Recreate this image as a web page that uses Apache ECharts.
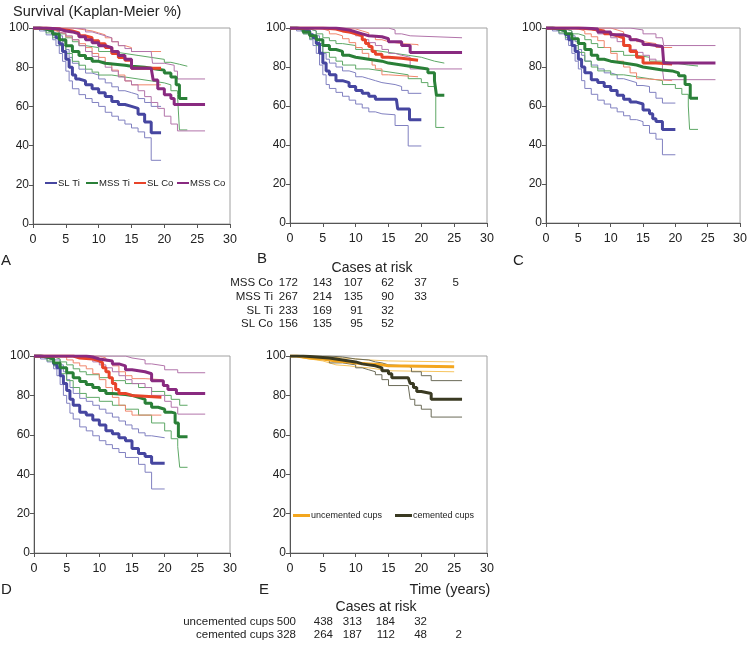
<!DOCTYPE html>
<html><head><meta charset="utf-8">
<script src="https://cdn.jsdelivr.net/npm/echarts/dist/echarts.min.js"></script>
<style>html,body{margin:0;padding:0;background:#fff}#c{width:750px;height:652px}</style>
</head><body><div id="c"></div>
<script>
// ---------------- DATA (time in years, Kaplan-Meier survival %) ----------------
// Panel A
const A_SLTi_est = [[0,100],[1,99.5],[2,98.5],[3,97],[3.5,95],[4,92],[4.5,88],[5,84],[5.5,80],[6,76],[6.5,74],[7,73],[8,71],[9,69],[10,67],[11,65],[12,62.5],[13,61],[14,60],[15,59],[16,56],[17,52],[18,46.5],[19.5,46.5]];
const A_SLTi_hi  = [[0,100],[2,99.5],[3,98.5],[4,96],[4.5,93],[5,89],[5.5,85],[6,82],[7,79],[8,77],[9,76],[10,74],[11,72],[12,70],[13,68],[14,67],[15,66],[16,64],[17,62],[18,60],[19.5,60]];
const A_SLTi_lo  = [[0,100],[1,98.5],[2,96.5],[3,94],[3.5,91],[4,87],[4.5,83],[5,78],[5.5,73],[6,69],[7,66],[8,64],[9,62],[10,60],[11,57],[12,55],[13,53],[14,51],[15,49],[16,47],[17,44],[18,32.5],[19.5,32.5]];
const A_MSSTi_est = [[0,100],[1,99.5],[2,98.5],[3,97],[4,94],[5,91],[6,88],[7,86],[8,84.5],[9,83],[10,82],[11,81],[14,80.5],[15,80],[17,79.5],[18,79],[19,78.5],[20,77],[21,75],[21.8,71],[22.3,64],[23.5,64]];
const A_MSSTi_hi  = [[0,100],[2,99.5],[3,98.5],[4,97],[5,95],[6,93],[7,91],[8,90],[10,88],[12,87],[14,86],[16,85],[18,84],[20,82.5],[21,81.5],[22.3,80.5],[23.5,80.5]];
const A_MSSTi_lo  = [[0,100],[1,99],[2,97.5],[3,95],[4,91],[5,87],[6,83],[7,81],[8,79],[9,77.5],[10,76],[12,75],[14,74],[16,73],[18,72],[20,71],[21,68],[22,66],[22.3,48],[23.5,48]];
const A_SLCo_est = [[0,100],[2,99.5],[4,99],[5,98.5],[6,97.5],[7,96],[8,95],[9,93.5],[10,92],[11,90],[12,87],[13,85],[14,83.5],[15,79.5],[19.5,79.5]];
const A_SLCo_hi  = [[0,100],[5,100],[6,99.5],[7,99],[8,98.5],[9,97.5],[10,96.5],[11,95],[12,93],[13,91],[14,90],[15,88],[19.5,88]];
const A_SLCo_lo  = [[0,100],[2,99],[3,98],[4,97],[5,95.5],[6,94],[7,92],[8,90],[9,87],[10,85],[11,82],[12,78.5],[13,76],[14,73],[15,71],[19.5,71]];
const A_MSSCo_est = [[0,100],[2,99.5],[4,98.5],[5,98],[6,97],[7,95.5],[8,94],[9,92.5],[10,91],[11,90],[12,88],[13,86],[14,84],[15,79.5],[18,78.5],[18.3,73.5],[19,69],[20,66],[21,64],[21.5,61],[26.2,61]];
const A_MSSCo_hi  = [[0,100],[4,100],[6,99.5],[8,98],[9,97],[10,96],[11,95],[12,93],[13,91],[14,89.5],[15,88],[18,87.5],[18.2,82],[20,81],[21.5,78],[22,74],[26.2,74]];
const A_MSSCo_lo  = [[0,100],[2,99],[4,97.5],[5,96],[6,94],[7,91],[8,88],[9,85.5],[10,83],[11,80],[12,78],[13,75],[14,73],[15,71],[16,68],[17,65],[18,62],[19,59],[20,55],[21,51],[22,47.5],[26.2,47.5]];
// Panel B
const B_SLTi_est = [[0,100],[1,99.5],[2,98.5],[3,96.5],[3.5,95],[4,92],[4.5,87],[5,82],[5.5,78],[6,76],[7,73],[8,72],[9,70],[10,68],[11,66.5],[12,65],[13,63.5],[16.2,63],[16.4,58.5],[18.2,53],[20,53]];
const B_SLTi_hi  = [[0,100],[2,99.5],[3,98.5],[4,96],[4.5,92],[5,87],[5.5,84],[6,82],[7,80],[8,78],[9,77],[10,75],[11,74],[12,73],[13,72],[14,71],[16,70],[17,68],[18,66.5],[20,66.5]];
const B_SLTi_lo  = [[0,100],[1,98.5],[2,97],[3,94],[3.5,91],[4,87],[4.5,81],[5,76],[5.5,71],[6,69],[7,67],[8,65],[9,63],[10,61],[11,59],[12,57],[13,56],[14,55.5],[16,50],[18,39.5],[20,39.5]];
const B_MSSTi_est = [[0,100],[1,99.5],[2,98],[3,96],[4,94],[5,91],[6,89],[7,88],[8,86],[9,85],[10,84],[12,83],[14,82],[15,81],[17,80.5],[18,79.5],[20,79],[21,77],[22,73],[22.3,65.5],[23.5,65.5]];
const B_MSSTi_hi  = [[0,100],[2,99.5],[3,98.5],[4,97],[5,95],[6,93.5],[7,92],[8,91],[10,89],[12,88],[14,87],[16,86],[18,85],[20,84],[21,83],[22,82],[23.5,82]];
const B_MSSTi_lo  = [[0,100],[1,99],[2,97],[3,94.5],[4,91],[5,87.5],[6,85],[7,83],[8,81],[10,79],[12,78],[14,77],[16,76],[18,74],[20,72],[21,70],[22.2,49],[23.5,49]];
const B_SLCo_est = [[0,100],[4,100],[5,99.5],[7,98.5],[8,98],[9,97],[10,96],[11,94],[11.5,92],[12,90.5],[12.5,88],[13,86.5],[14,85],[15,84.5],[17,83.5],[19.5,83.5]];
const B_SLCo_hi  = [[0,100],[7,100],[8,99.5],[10,98.5],[11,97.5],[12,96],[13,94],[14,93],[15,92],[17,91.5],[19.5,91]];
const B_SLCo_lo  = [[0,100],[4,99.5],[5,98.5],[6,97],[7,96],[8,94.5],[9,92.5],[10,90],[11,87],[12,84],[12.5,81],[13,79],[14,76],[15,75],[19.5,75]];
const B_MSSCo_est = [[0,100],[6,100],[7,99],[9,98],[10,97],[11,96],[12,95.5],[14,94.5],[15,93],[17,91],[18.3,87.5],[26.2,87.5]];
const B_MSSCo_hi  = [[0,100],[14,100],[15,99],[16,97],[17,96],[18.3,95],[26.2,95]];
const B_MSSCo_lo  = [[0,100],[7,99],[9,97.5],[10,96],[11,94],[12,92.5],[13,91],[14,89],[15,87],[16,86],[17,85],[18.3,79],[26.2,79]];
// Panel C
const C_SLTi_est = [[0,100],[1,99.5],[2,98.5],[3,96.5],[3.5,94],[4,91],[4.5,88],[5,84],[5.5,80],[6,77],[7,73.5],[8,72],[9,70],[10,68],[11,65.5],[12,63.5],[13,62],[14,61],[15,58],[16,56],[16.5,53.5],[17,52],[18,48],[20,48]];
const C_SLTi_hi  = [[0,100],[2,99.5],[3,98.5],[4,96],[4.5,93],[5,89],[5.5,86],[6,83],[7,81],[8,79],[9,77],[10,76],[11,74],[12,73],[13,72],[14,70.5],[15,70],[16,67],[17,64],[18,61.5],[20,61.5]];
const C_SLTi_lo  = [[0,100],[1,98.5],[2,97],[3,94],[3.5,91],[4,87],[4.5,83],[5,79],[5.5,73],[6,69],[7,66],[8,63],[9,61],[10,59],[11,57],[12,55],[13,53],[14,52],[15,50],[16,46],[17,43],[18,35],[20,35]];
const C_MSSTi_est = [[0,100],[1,99.5],[2,98.5],[3,97],[4,94.5],[5,92],[6,89],[7,86],[8,84],[9,83],[10,82],[12,81],[14,80],[15,79],[17,78.5],[18,78],[19.5,77],[20.5,75.5],[21.5,71],[22.3,64],[23.5,64]];
const C_MSSTi_hi  = [[0,100],[2,99.5],[3,98.5],[4,97],[5,96],[6,94],[7,92],[8,90],[10,88],[12,86],[14,85],[16,83],[18,82],[20,81],[22,80.5],[23.5,80.5]];
const C_MSSTi_lo  = [[0,100],[1,99],[2,97.5],[3,95],[4,91],[5,87.5],[6,83],[7,80],[8,78],[10,76],[12,75],[14,74],[16,73],[18,71],[20,69],[21,66],[22,60],[22.2,48],[23.5,48]];
const C_SLCo_est = [[0,100],[5,99.5],[7,98.5],[9,97],[10,96],[11,95],[12,91],[13,88],[14,85],[15,82],[17,81.5],[19.5,81.5]];
const C_SLCo_hi  = [[0,100],[9,100],[10,99],[11,98],[12,96],[13,94.5],[14,93],[15,92],[17,90],[19.5,90]];
const C_SLCo_lo  = [[0,100],[4,99.5],[5,98.5],[6,97],[7,95.5],[8,93.5],[9,90],[10,87],[11,83],[12,80],[13,77],[14,74],[15,73],[19.5,73]];
const C_MSSCo_est = [[0,100],[6,99.5],[8,98],[10,96.5],[12,95.5],[13,94],[14,93],[15,91.5],[16,90.5],[18,89.5],[18.2,82],[26.2,82]];
const C_MSSCo_hi  = [[0,100],[12,100],[13,99],[15,97],[17,95],[18,94],[18.2,91],[26.2,91]];
const C_MSSCo_lo  = [[0,100],[6,99],[8,97],[10,95],[11,93],[12,91],[13,89],[14,87.5],[15,86],[16,84],[17,82],[18,79],[18.2,73.5],[26.2,73.5]];
// Panel D
const D_SLTi_est = [[0,100],[1,99.5],[2,98.5],[3,96],[3.5,94],[4,90],[4.5,86],[5,82.5],[5.5,78],[6,75],[7,71.5],[8,70],[9,67.5],[10,65],[11,62],[12,60.5],[13,58.5],[14,57],[15,53],[16,50.5],[17,49],[18,45.5],[20,45.5]];
const D_SLTi_hi  = [[0,100],[2,99.5],[3,98],[4,95.5],[4.5,92],[5,88],[5.5,84],[6,81],[7,78.5],[8,77],[9,75],[10,73],[11,71],[12,69],[13,67],[14,65],[15,63],[16,61],[17,59.5],[18,58.5],[20,58.5]];
const D_SLTi_lo  = [[0,100],[1,98.5],[2,97],[3,93.5],[3.5,90],[4,85.5],[4.5,80],[5,76],[5.5,71],[6,68],[7,64],[8,62],[9,59.5],[10,57],[11,55],[12,53],[13,51],[14,48.5],[16,45],[17,41],[18,32.5],[20,32.5]];
const D_MSSTi_est = [[0,100],[1,99.5],[2,98.5],[3,96.5],[4,94],[5,91.5],[6,89],[7,87],[8,85.5],[9,84],[10,82.5],[11,81],[12,80.5],[14,80],[15,79],[16,78],[17,76],[18,74],[19,73],[20,71.5],[21,71],[21.6,66],[22.1,59],[23.5,59]];
const D_MSSTi_hi  = [[0,100],[2,99.5],[3,98.5],[4,97],[5,95.5],[6,93.5],[7,92],[8,90.5],[10,89],[12,87.5],[14,86],[16,84],[18,82],[20,80],[21,78],[22.3,75],[23.5,75]];
const D_MSSTi_lo  = [[0,100],[1,99],[2,97.5],[3,95],[4,91],[5,87.5],[6,84],[7,81],[8,79],[10,77],[12,75],[14,73],[16,70],[18,66],[20,62],[21,58],[22,54],[22.3,43.5],[23.5,43.5]];
const D_SLCo_est = [[0,100],[5,100],[6,99],[7,98.5],[9,97.5],[10,96.5],[10.5,94],[11,92],[11.5,89],[12,86],[12.5,83],[13,81],[14,80],[15,79],[19.5,79]];
const D_SLCo_hi  = [[0,100],[9,100],[10,99],[11,97.5],[12,95],[13,92],[14,90],[15,88.5],[17,88],[19.5,87.5]];
const D_SLCo_lo  = [[0,100],[4,99.5],[5,98],[6,96.5],[7,95],[8,93.5],[9,91],[10,88],[11,84],[12,79],[13,75],[14,72],[15,70],[19.5,70]];
const D_MSSCo_est = [[0,100],[7,100],[8,99.5],[9,98.5],[10,97.5],[12,96],[13,95],[14,93],[15,92],[17,91],[18,87.5],[19.8,85],[20.5,83],[21.8,81],[26.2,81]];
const D_MSSCo_hi  = [[0,100],[12,100],[14,99],[15,98],[17,96],[18,95],[20,93],[22,91.5],[26.2,91.5]];
const D_MSSCo_lo  = [[0,100],[7,99],[9,97],[10,95.5],[11,94],[12,92],[13,90],[14,88],[15,86],[17,84],[18,80],[20,77],[21,74],[22,70.5],[26.2,70.5]];
// Panel E
const E_unc_est = [[0,100],[1,99.5],[2,99],[3,98.5],[5,98],[6,97.5],[7,97],[9,96.5],[10,96],[12,95.5],[14,95],[15,94.5],[25,94.5]];
const E_unc_hi  = [[0,100],[3,99.5],[6,99],[8,98.5],[10,98],[12,97.5],[15,97],[25,97]];
const E_unc_lo  = [[0,100],[1,99],[2,98.5],[3,97.5],[5,96.5],[6,95.5],[7,95],[9,94.5],[10,94],[12,93],[14,92.5],[15,92],[25,92]];
const E_cem_est = [[0,100],[2,99.5],[4,99],[6,98],[8,97],[10,96],[11,95.5],[12,95],[13,94],[14,92.5],[15,91],[15.5,89],[18,88.5],[18.3,86],[18.8,84],[19.3,82],[20,81],[21.5,78],[26.2,78]];
const E_cem_hi  = [[0,100],[4,100],[6,99.5],[8,98.5],[10,98],[12,97],[13,96.5],[14,95.5],[15,95],[18,94],[18.5,92],[20,90],[21.5,87.5],[26.2,87.5]];
const E_cem_lo  = [[0,100],[2,99],[4,98],[6,96.5],[8,95.5],[10,94],[11,93],[12,92],[13,90.5],[14,88],[15,85],[18,84],[18.3,78],[19,75],[20,73],[21.5,69],[26.2,69]];

// Legends / labels / risk tables
const groupNames = ['SL Ti','MSS Ti','SL Co','MSS Co'];
const cupNames = ['uncemented cups','cemented cups'];
const panelLetters = ['A','B','C','D','E'];
const risk1Labels = ['MSS Co','MSS Ti','SL Ti','SL Co'];
const risk1Values = [[172,143,107,62,37,5],[267,214,135,90,33],[233,169,91,32],[156,135,95,52]];
const risk2Labels = ['uncemented cups','cemented cups'];
const risk2Values = [[500,438,313,184,32],[328,264,187,112,48,2]];

// ---------------- CHART ----------------
const FONT = "'Liberation Sans', Arial, Helvetica, sans-serif";
const colThick = {'SL Ti':'#4646a0','MSS Ti':'#2a8038','SL Co':'#e8442a','MSS Co':'#892a80','uncemented cups':'#f3a61e','cemented cups':'#3a3a22'};
const colThin  = {'SL Ti':'#8080c0','MSS Ti':'#5ea866','SL Co':'#f0866c','MSS Co':'#b274aa','uncemented cups':'#f6c45e','cemented cups':'#6b6b58'};

const panels = [
  {est:[A_SLTi_est,A_MSSTi_est,A_SLCo_est,A_MSSCo_est], hi:[A_SLTi_hi,A_MSSTi_hi,A_SLCo_hi,A_MSSCo_hi], lo:[A_SLTi_lo,A_MSSTi_lo,A_SLCo_lo,A_MSSCo_lo], names:groupNames},
  {est:[B_SLTi_est,B_MSSTi_est,B_SLCo_est,B_MSSCo_est], hi:[B_SLTi_hi,B_MSSTi_hi,B_SLCo_hi,B_MSSCo_hi], lo:[B_SLTi_lo,B_MSSTi_lo,B_SLCo_lo,B_MSSCo_lo], names:groupNames},
  {est:[C_SLTi_est,C_MSSTi_est,C_SLCo_est,C_MSSCo_est], hi:[C_SLTi_hi,C_MSSTi_hi,C_SLCo_hi,C_MSSCo_hi], lo:[C_SLTi_lo,C_MSSTi_lo,C_SLCo_lo,C_MSSCo_lo], names:groupNames},
  {est:[D_SLTi_est,D_MSSTi_est,D_SLCo_est,D_MSSCo_est], hi:[D_SLTi_hi,D_MSSTi_hi,D_SLCo_hi,D_MSSCo_hi], lo:[D_SLTi_lo,D_MSSTi_lo,D_SLCo_lo,D_MSSCo_lo], names:groupNames},
  {est:[E_unc_est,E_cem_est], hi:[E_unc_hi,E_cem_hi], lo:[E_unc_lo,E_cem_lo], names:cupNames}
];

const gridPos = [
  {left:33, top:28, width:197, height:196},
  {left:290, top:28, width:197, height:195},
  {left:546, top:28, width:197, height:195},
  {left:34, top:356, width:196, height:197},
  {left:290, top:356, width:197, height:197}
];

const grid = [], xAxis = [], yAxis = [], series = [];
gridPos.forEach((g, i) => {
  grid.push(Object.assign({show:true, borderColor:'#a0a0a0', borderWidth:1, backgroundColor:'#fff', containLabel:false}, g));
  xAxis.push({type:'value', gridIndex:i, min:0, max:30, interval:5,
    axisLine:{show:true, onZero:false, lineStyle:{color:'#555', width:1}},
    axisTick:{show:true, inside:false, length:4, lineStyle:{color:'#555'}},
    axisLabel:{color:'#222', fontSize:12.5, fontFamily:FONT, margin:9},
    splitLine:{show:false}});
  yAxis.push({type:'value', gridIndex:i, min:0, max:100, interval:20,
    axisLine:{show:true, onZero:false, lineStyle:{color:'#555', width:1}},
    axisTick:{show:true, inside:false, length:4, lineStyle:{color:'#555'}},
    axisLabel:{color:'#222', fontSize:12, fontFamily:FONT, margin:4},
    splitLine:{show:false}});
});

panels.forEach((p, i) => {
  p.names.forEach((nm, k) => {
    [p.hi[k], p.lo[k]].forEach((arr, j) => {
      series.push({type:'line', name:nm + (j ? ' lower' : ' upper'), xAxisIndex:i, yAxisIndex:i,
        data:arr, step:'end', showSymbol:false, symbol:'none', z:2,
        lineStyle:{color:colThin[nm], width:1}, itemStyle:{color:colThin[nm]}});
    });
  });
  p.names.forEach((nm, k) => {
    series.push({type:'line', name:nm, xAxisIndex:i, yAxisIndex:i,
      data:p.est[k], step:'end', showSymbol:false, symbol:'none', z:3,
      lineStyle:{color:colThick[nm], width:3}, itemStyle:{color:colThick[nm]}});
  });
});

const txt = (x, y, s, size, align) => ({type:'text', x:x, y:y,
  style:{text:String(s), fill:'#222', font:size + 'px ' + FONT, textAlign:align || 'left', textVerticalAlign:'middle'}});

const graphics = [];
graphics.push(txt(13, 12, 'Survival (Kaplan-Meier %)', 14.5));
const letterPos = [[1,261],[257,259],[513,261],[1,590],[259,590]];
panelLetters.forEach((L, i) => graphics.push(txt(letterPos[i][0], letterPos[i][1], L, 15)));
graphics.push(txt(450, 590, 'Time (years)', 14.5, 'center'));
graphics.push(txt(372, 268, 'Cases at risk', 14, 'center'));
graphics.push(txt(376, 607, 'Cases at risk', 14, 'center'));

const risk1Cols = [298, 332, 363, 394, 427, 459];
const risk1Rows = [283, 297, 311, 324];
risk1Labels.forEach((lb, r) => {
  graphics.push(txt(273, risk1Rows[r], lb, 11.5, 'right'));
  risk1Values[r].forEach((v, c) => graphics.push(txt(risk1Cols[c], risk1Rows[r], v, 11.5, 'right')));
});
const risk2Cols = [296, 333, 362, 395, 427, 462];
const risk2Rows = [622, 635];
risk2Labels.forEach((lb, r) => {
  graphics.push(txt(274, risk2Rows[r], lb, 11.5, 'right'));
  risk2Values[r].forEach((v, c) => graphics.push(txt(risk2Cols[c], risk2Rows[r], v, 11.5, 'right')));
});

// one legend per item, placed at the reference positions
const legA = [45, 86, 134, 177];
const legE = [293, 395];
const legend = [];
groupNames.forEach((nm, k) => legend.push({data:[nm], left:legA[k], top:178, padding:0, itemWidth:12, itemHeight:2, icon:'rect',
  selectedMode:false, textStyle:{fontSize:9.5, color:'#222', fontFamily:FONT, padding:[0,0,0,-4]}}));
cupNames.forEach((nm, k) => legend.push({data:[nm], left:legE[k], top:511, padding:0, itemWidth:17, itemHeight:3, icon:'rect',
  selectedMode:false, textStyle:{fontSize:9, color:'#222', fontFamily:FONT, padding:[0,0,0,-4]}}));

const option = {
  animation:false,
  backgroundColor:'#fff',
  grid, xAxis, yAxis, series, legend,
  graphic:graphics
};
const chart = echarts.init(document.getElementById('c'), null, {renderer:'canvas'});
chart.setOption(option);
</script>
</body></html>
